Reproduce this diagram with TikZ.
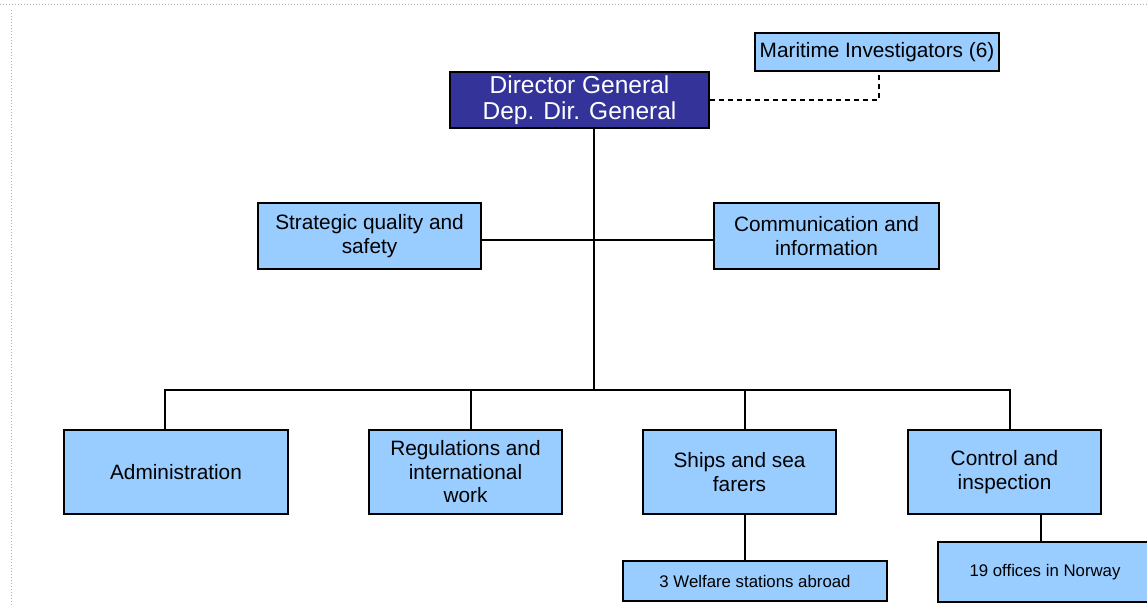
\documentclass[tikz,border=0pt]{standalone}
\usepackage{fontspec}
\setmainfont{Liberation Sans}
\usepackage{tikz}
\usetikzlibrary{positioning}
\definecolor{dgblue}{HTML}{333399}
\definecolor{unitblue}{HTML}{99CCFF}

\begin{document}
\begin{tikzpicture}[
    x=1pt, y=-1pt,
    unit/.style={rectangle, draw=black, line width=1.2pt, fill=unitblue, align=center, inner sep=0pt, font=\fontsize{20.8}{23.5}\selectfont},
    head/.style={unit, fill=dgblue, text=white, font=\fontsize{24.5}{26}\selectfont},
    small/.style={unit, font=\fontsize{16.8}{19}\selectfont},
    link/.style={draw=black, line width=1.1pt},
    frame/.style={draw=black!30, dotted, line width=1pt}
]
\useasboundingbox (0,0) rectangle (1147,605);
\draw[frame] (0,4) -- (1147,4);
\draw[frame] (11,10) -- (11,605);

\node[head, minimum width=259pt, minimum height=56pt] (dg) at (579.5,100) {Director General\\Dep. Dir. General};
\node[unit, minimum width=244pt, minimum height=38pt] (mi) at (877,52) {Maritime Investigators (6)};
\node[unit, minimum width=223pt, minimum height=66pt] (sq) at (369.5,236) {Strategic quality and\\safety};
\node[unit, minimum width=225pt, minimum height=66pt] (ci) at (826.5,236) {Communication and\\information};
\node[unit, minimum width=224pt, minimum height=84pt] (adm) at (176,472) {Administration};
\node[unit, minimum width=193pt, minimum height=84pt] (reg) at (465.5,472) {Regulations and\\international\\work};
\node[unit, minimum width=193pt, minimum height=84pt] (ship) at (739.5,472) {Ships and sea\\farers};
\node[unit, minimum width=193pt, minimum height=84pt] (ctl) at (1004.5,472) {Control and\\inspection};
\node[small, minimum width=264pt, minimum height=40pt] (wel) at (755,581) {3 Welfare stations abroad};
\node[small, minimum width=214pt, minimum height=60pt] (nor) at (1045,572) {19 offices in Norway};

\coordinate (bus) at (594,390);
\draw[link] (dg.south -| bus) -- (bus);
\draw[link] ([yshift=-4pt]sq.east) -- ([yshift=-4pt]ci.west);
\draw[link] ([xshift=-11pt]adm.north) |- (bus) -| ([xshift=5.5pt]ctl.north);
\draw[link] ([xshift=5.5pt]reg.north) -- ([xshift=5.5pt]reg.north |- bus);
\draw[link] ([xshift=5.5pt]ship.north) -- ([xshift=5.5pt]ship.north |- bus);
\draw[link] ([xshift=5.5pt]ship.south) -- ([xshift=5.5pt]ship.south |- wel.north);
\draw[link] ([xshift=-4pt]ctl.south -| nor.north) -- ([xshift=-4pt]nor.north);
\draw[link, dash pattern=on 5pt off 4pt] (dg.east) -| ([xshift=2pt]mi.south);
\end{tikzpicture}
\end{document}
